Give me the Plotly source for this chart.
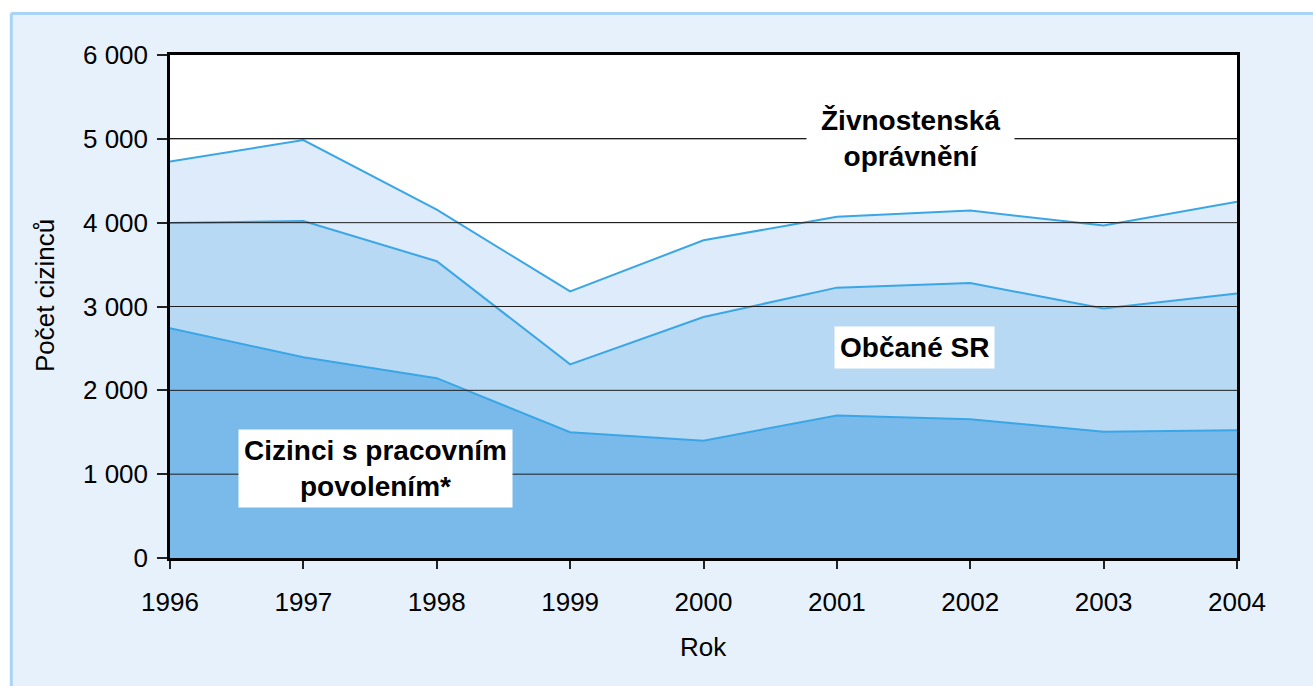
import plotly.graph_objects as go

# ---- data ----
years = [1996, 1997, 1998, 1999, 2000, 2001, 2002, 2003, 2004]
cizinci_povoleni = [2740, 2395, 2145, 1500, 1400, 1700, 1655, 1505, 1525]
obcane_sr = [1255, 1625, 1395, 810, 1475, 1525, 1625, 1470, 1630]
zivnostenska = [735, 965, 615, 870, 915, 845, 865, 990, 1095]
y_ticks = [0, 1000, 2000, 3000, 4000, 5000, 6000]

series_names = ["Cizinci s pracovním<br>povolením*", "Občané SR", "Živnostenská<br>oprávnění"]
fill_colors = ["#7ABAEB", "#B8D9F3", "#DDEBFA"]
line_color = "#3AA6E6"

FONT = "Liberation Sans, Arial, sans-serif"

fig = go.Figure()
for vals, name, fc in zip([cizinci_povoleni, obcane_sr, zivnostenska], series_names, fill_colors):
    fig.add_trace(go.Scatter(
        x=years, y=vals, name=name, stackgroup="one", mode="lines",
        line=dict(color=line_color, width=2), fillcolor=fc,
        hoverinfo="x+y",
    ))

L, R, T, B = 170, 76, 55, 128
W, H = 1313, 686
pw, ph = W - L - R, H - T - B

def px_x(px):
    return (px - L) / pw

def px_y(py):
    return (H - B - py) / ph

shapes = []
# page frame
shapes.append(dict(type="rect", xref="paper", yref="paper", x0=-1, x1=2, y0=px_y(12), y1=2,
                   fillcolor="white", line=dict(width=0), layer="below"))
shapes.append(dict(type="rect", xref="paper", yref="paper", x0=-1, x1=px_x(10), y0=-2, y1=2,
                   fillcolor="white", line=dict(width=0), layer="below"))
shapes.append(dict(type="line", xref="paper", yref="paper", x0=px_x(11.3), x1=2, y0=px_y(13.5), y1=px_y(13.5),
                   line=dict(color="#AAD4F4", width=3), layer="below"))
shapes.append(dict(type="line", xref="paper", yref="paper", x0=px_x(11.3), x1=px_x(11.3), y0=-2, y1=px_y(13.5),
                   line=dict(color="#AAD4F4", width=3), layer="below"))
# gridlines drawn above the filled areas
for v in y_ticks[1:-1]:
    shapes.append(dict(type="line", xref="paper", yref="y", x0=0, x1=1, y0=v, y1=v,
                       line=dict(color="#1E1E1E", width=1), layer="above"))

label_font = dict(family=FONT, size=28, color="black", weight="bold")
annotations = [
    dict(x=2001.55, y=5000, xref="x", yref="y", text="Živnostenská<br>oprávnění", showarrow=False,
         font=label_font, bgcolor="white", borderpad=14, align="center"),
    dict(x=2001.58, y=2511, xref="x", yref="y", text="Občané SR", showarrow=False,
         font=label_font, bgcolor="white", borderpad=5, align="center"),
    dict(x=1997.54, y=1068, xref="x", yref="y", text="Cizinci s pracovním<br>povolením*", showarrow=False,
         font=label_font, bgcolor="white", borderpad=5, align="center"),
    dict(x=0.5, y=px_y(647), xref="paper", yref="paper", text="Rok", showarrow=False,
         font=dict(family=FONT, size=26, color="black"), xanchor="center", yanchor="middle"),
    dict(x=px_x(45), y=px_y(296), xref="paper", yref="paper", text="Počet cizinců", showarrow=False,
         textangle=-90, font=dict(family=FONT, size=26, color="black"), xanchor="center", yanchor="middle"),
]

fig.update_layout(
    width=W, height=H,
    margin=dict(l=L, r=R, t=T, b=B, pad=0),
    paper_bgcolor="#E7F1FB", plot_bgcolor="white",
    showlegend=False,
    separators=", ",
    font=dict(family=FONT, size=26, color="black"),
    shapes=shapes, annotations=annotations,
    xaxis=dict(range=[1996, 2004], tickvals=years, ticktext=[str(y) for y in years],
               showgrid=False, zeroline=False, showline=True, linecolor="black", linewidth=2.5,
               mirror=True, ticks="outside", ticklen=8, tickwidth=1.5, tickcolor="#222",
               ticklabelstandoff=11, tickfont=dict(family=FONT, size=26, color="black"),
               layer="above traces"),
    yaxis=dict(range=[0, 6000], tickvals=y_ticks, tickformat=",d",
               showgrid=True, gridcolor="#1E1E1E", gridwidth=1, zeroline=False,
               showline=True, linecolor="black", linewidth=2.5, mirror=True,
               ticks="outside", ticklen=10, tickwidth=1.5, tickcolor="#222",
               ticklabelstandoff=4, tickfont=dict(family=FONT, size=26, color="black"),
               layer="above traces"),
)

fig.write_html("out.html", config={"displayModeBar": False},
               post_script="document.body.style.margin='0';document.body.style.overflow='hidden';")
